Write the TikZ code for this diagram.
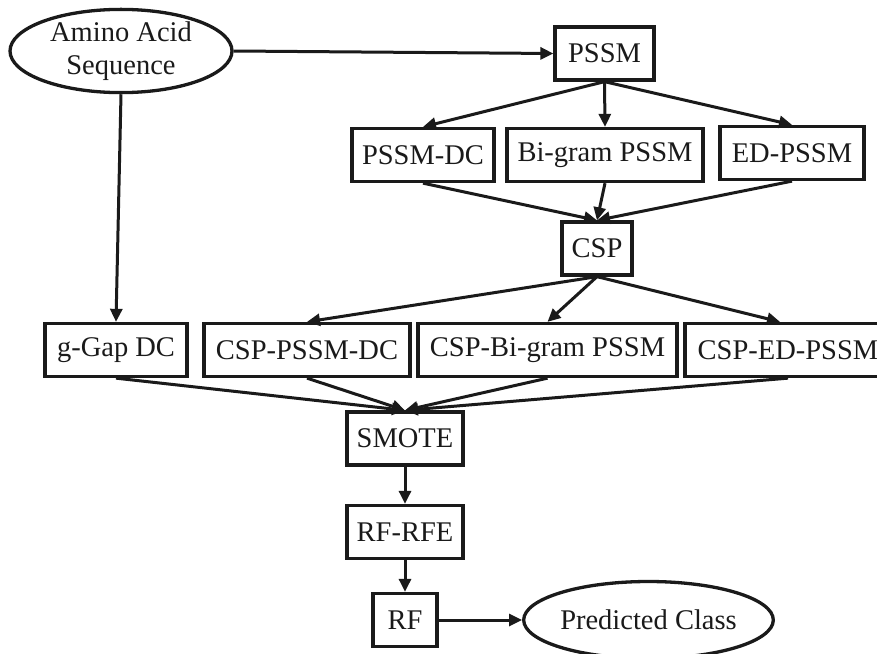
\documentclass[tikz,border=0pt]{standalone}
\usepackage{fontspec}
\setmainfont{Liberation Serif}
\usetikzlibrary{shapes.geometric,arrows.meta}
\definecolor{ink}{HTML}{1A1A1A}
\begin{document}
\begin{tikzpicture}[x=1pt,y=-1pt,
  every node/.style={font=\fontsize{28.5}{33}\selectfont, text=ink},
  box/.style={draw=ink, line width=3.3pt, rectangle, inner sep=0pt, minimum height=53pt},
  oval/.style={draw=ink, line width=3.3pt, ellipse, inner sep=0pt, minimum width=222pt, minimum height=77pt, align=center},
  conn/.style={draw=ink, line width=3pt, -{Triangle[length=13pt,width=12pt]}}
]
\useasboundingbox (0,0) rectangle (877,653);
\fill[white] (0,0) rectangle (877,653);

\node[oval] (amino) at (121,51) {Amino Acid\\Sequence};
\node[box, minimum width=99pt] (pssm) at (604.5,53.5) {PSSM};

\node[box, minimum width=142pt] (pssmdc) at (423,155) {PSSM-DC};
\node[box, minimum width=196pt] (bigram) at (605,155) {Bi-gram PSSM};
\node[box, minimum width=144pt] (edpssm) at (792,153) {ED-PSSM};

\node[box, minimum width=70pt] (csp) at (597,248.5) {CSP};

\node[box, minimum width=142pt] (ggap) at (116,350) {g-Gap DC};
\node[box, minimum width=206pt] (csppssmdc) at (307,350) {CSP-PSSM-DC};
\node[box, minimum width=259pt] (cspbigram) at (547.5,350) {CSP-Bi-gram PSSM};
\node[box, minimum width=206pt] (csped) at (788,350) {CSP-ED-PSSM};

\node[box, minimum width=116pt] (smote) at (405,438.5) {SMOTE};
\node[box, minimum width=116pt] (rfrfe) at (405,532) {RF-RFE};
\node[box, minimum width=64pt] (rf) at (405,620) {RF};
\node[oval, minimum width=221pt] (pred) at (648.5,620) {Predicted Class};

\draw[conn] (amino.east) -- (pssm.west);
\draw[conn] (amino.south) -- (ggap.north);

\draw[conn] (pssm.south) -- (pssmdc.north);
\draw[conn] (pssm.south) -- (bigram.north);
\draw[conn] (pssm.south) -- (edpssm.north);

\draw[conn] (pssmdc.south) -- (csp.north);
\draw[conn] (bigram.south) -- (csp.north);
\draw[conn] (edpssm.south) -- (csp.north);

\draw[conn] (csp.south) -- (csppssmdc.north);
\draw[conn] (csp.south) -- (cspbigram.north);
\draw[conn] (csp.south) -- ([xshift=-8pt]csped.north);

\draw[conn] (ggap.south) -- (smote.north);
\draw[conn] (csppssmdc.south) -- (smote.north);
\draw[conn] (cspbigram.south) -- (smote.north);
\draw[conn] (csped.south) -- (smote.north);

\draw[conn] (smote.south) -- (rfrfe.north);
\draw[conn] (rfrfe.south) -- (rf.north);
\draw[conn] (rf.east) -- (pred.west);
\end{tikzpicture}
\end{document}
